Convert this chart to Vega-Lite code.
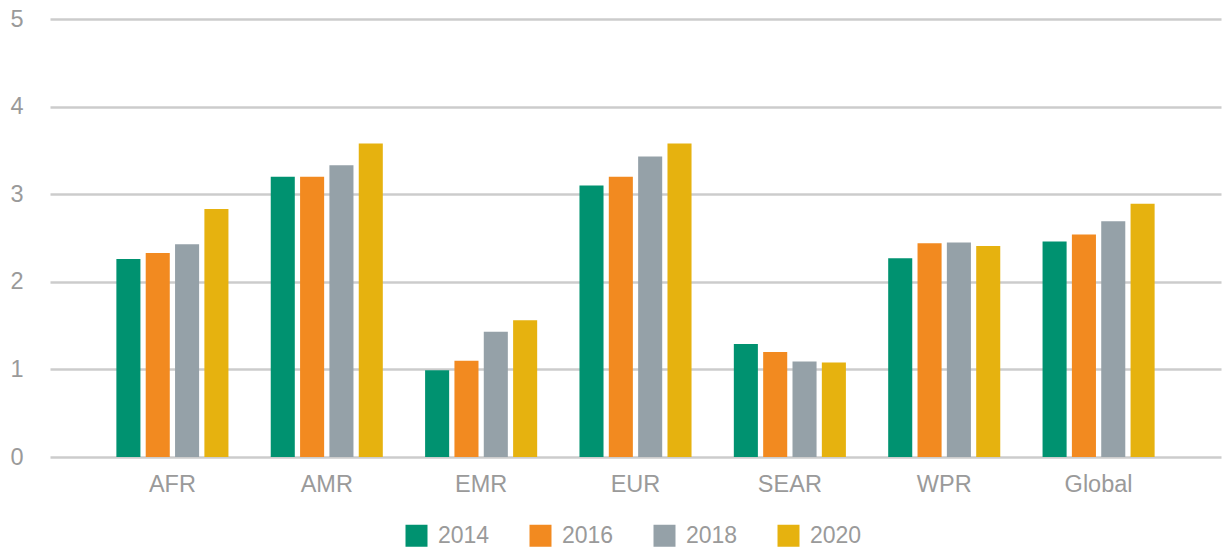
{
  "$schema": "https://vega.github.io/schema/vega-lite/v6.json",
  "width": 1171,
  "height": 438,
  "autosize": "none",
  "padding": {"left": 50, "top": 19, "right": 1, "bottom": 91},
  "background": "white",
  "config": {
    "view": {"stroke": null},
    "font": "Liberation Sans"
  },
  "data": {
    "values": [
      {"region": "AFR", "year": "2014", "value": 2.26},
      {"region": "AFR", "year": "2016", "value": 2.33},
      {"region": "AFR", "year": "2018", "value": 2.43},
      {"region": "AFR", "year": "2020", "value": 2.83},
      {"region": "AMR", "year": "2014", "value": 3.20},
      {"region": "AMR", "year": "2016", "value": 3.20},
      {"region": "AMR", "year": "2018", "value": 3.33},
      {"region": "AMR", "year": "2020", "value": 3.58},
      {"region": "EMR", "year": "2014", "value": 0.99},
      {"region": "EMR", "year": "2016", "value": 1.10},
      {"region": "EMR", "year": "2018", "value": 1.43},
      {"region": "EMR", "year": "2020", "value": 1.56},
      {"region": "EUR", "year": "2014", "value": 3.10},
      {"region": "EUR", "year": "2016", "value": 3.20},
      {"region": "EUR", "year": "2018", "value": 3.43},
      {"region": "EUR", "year": "2020", "value": 3.58},
      {"region": "SEAR", "year": "2014", "value": 1.29},
      {"region": "SEAR", "year": "2016", "value": 1.20},
      {"region": "SEAR", "year": "2018", "value": 1.09},
      {"region": "SEAR", "year": "2020", "value": 1.08},
      {"region": "WPR", "year": "2014", "value": 2.27},
      {"region": "WPR", "year": "2016", "value": 2.44},
      {"region": "WPR", "year": "2018", "value": 2.45},
      {"region": "WPR", "year": "2020", "value": 2.41},
      {"region": "Global", "year": "2014", "value": 2.46},
      {"region": "Global", "year": "2016", "value": 2.54},
      {"region": "Global", "year": "2018", "value": 2.69},
      {"region": "Global", "year": "2020", "value": 2.89}
    ]
  },
  "mark": {"type": "bar"},
  "encoding": {
    "x": {
      "field": "region",
      "type": "nominal",
      "sort": ["AFR", "AMR", "EMR", "EUR", "SEAR", "WPR", "Global"],
      "scale": {"paddingInner": 0.274, "paddingOuter": 0.43},
      "axis": {
        "title": null,
        "labelAngle": 0,
        "labelFontSize": 23.5,
        "labelColor": "#9a9a9a",
        "labelPadding": 15,
        "ticks": false,
        "domain": false,
        "grid": false
      }
    },
    "xOffset": {
      "field": "year",
      "type": "nominal",
      "scale": {"paddingInner": 0.18, "paddingOuter": 0}
    },
    "y": {
      "field": "value",
      "type": "quantitative",
      "scale": {"domain": [0, 5], "nice": false},
      "axis": {
        "title": null,
        "values": [0, 1, 2, 3, 4, 5],
        "labelFontSize": 23.5,
        "labelColor": "#9a9a9a",
        "labelPadding": 27,
        "ticks": false,
        "domain": false,
        "grid": true,
        "gridColor": "#cccccc",
        "gridWidth": 2.5,
        "zindex": 0
      }
    },
    "color": {
      "field": "year",
      "type": "nominal",
      "scale": {
        "domain": ["2014", "2016", "2018", "2020"],
        "range": ["#009270", "#f28a20", "#95a1a8", "#e6b20f"]
      },
      "legend": {
        "title": null,
        "orient": "none",
        "legendX": 355,
        "legendY": 505,
        "padding": 0,
        "direction": "horizontal",
        "symbolType": "square",
        "symbolSize": 484,
        "symbolStrokeWidth": 0,
        "labelFontSize": 23,
        "labelColor": "#9a9a9a",
        "labelOffset": 10,
        "columnPadding": 39
      }
    }
  }
}
